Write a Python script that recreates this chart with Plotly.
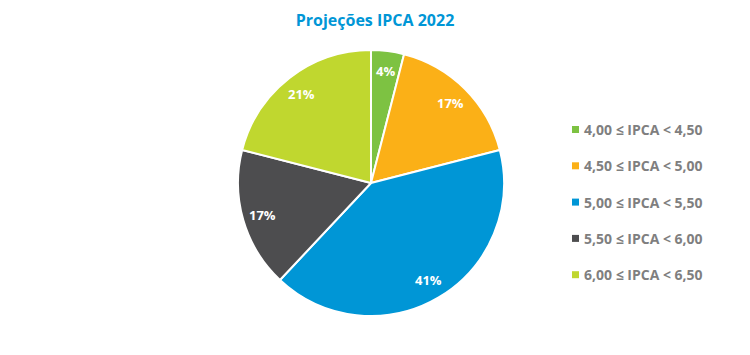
import math
import plotly.graph_objects as go

categories = ["4,00 ≤ IPCA < 4,50", "4,50 ≤ IPCA < 5,00", "5,00 ≤ IPCA < 5,50",
              "5,50 ≤ IPCA < 6,00", "6,00 ≤ IPCA < 6,50"]
values = [4, 17, 41, 17, 21]
colors = ["#7DC242", "#FBB017", "#0096D6", "#4D4D4F", "#C0D72F"]

W, H = 750, 355
OFF = 8  # page body margin
cx, cy, r = 371 - OFF, 183 - OFF, 133

fig = go.Figure(go.Pie(
    labels=categories, values=values, sort=False, direction="clockwise", rotation=0,
    marker=dict(colors=colors, line=dict(color="white", width=2)),
    textinfo="none",
    domain=dict(x=[(cx - r) / W, (cx + r) / W], y=[(H - cy - r) / H, (H - cy + r) / H]),
    showlegend=False, hoverinfo="label+percent",
))

annotations, shapes = [], []
total = sum(values)
cum = 0
for v in values:
    mid = 2 * math.pi * (cum + v / 2) / total
    cum += v
    rho = 0.85 * r
    px = cx + rho * math.sin(mid)
    py = cy - rho * math.cos(mid)
    annotations.append(dict(xref="paper", yref="paper", x=px / W, y=(H - py) / H,
                            xanchor="center", yanchor="middle", showarrow=False,
                            text=f"{round(100 * v / total)}%",
                            font=dict(family="Open Sans", size=13, color="white", weight="bold")))

leg_x, leg_y0, leg_dy = 572 - OFF, 129.5 - OFF, 36.3
for i, (lab, col) in enumerate(zip(categories, colors)):
    y = leg_y0 + i * leg_dy
    shapes.append(dict(type="rect", xref="paper", yref="paper",
                       x0=leg_x / W, x1=(leg_x + 7) / W,
                       y0=(H - y - 3.5) / H, y1=(H - y + 3.5) / H,
                       fillcolor=col, line=dict(width=0)))
    annotations.append(dict(xref="paper", yref="paper", x=(leg_x + 10) / W, y=(H - y) / H,
                            xanchor="left", yanchor="middle", showarrow=False, text=lab,
                            font=dict(family="Open Sans", size=14, color="#7F7F7F", weight="bold")))

fig.update_layout(
    width=W, height=H, margin=dict(l=0, r=0, t=0, b=0),
    paper_bgcolor="white", plot_bgcolor="white",
    title=dict(text="Projeções IPCA 2022", x=(375 - OFF) / W, xanchor="center",
               y=(H - 20 + OFF) / H, yanchor="middle",
               font=dict(family="Open Sans", size=16, color="#0096D6", weight="bold")),
    shapes=shapes, annotations=annotations,
)
fig.write_html("out.html")
